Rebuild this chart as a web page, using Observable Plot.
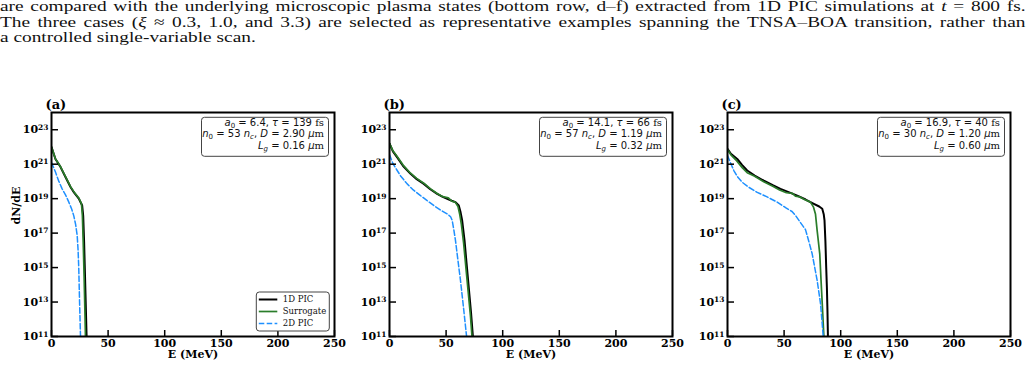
<!DOCTYPE html>
<html>
<head>
<meta charset="utf-8">
<script src="https://cdn.jsdelivr.net/npm/d3@7"></script>
<script src="https://cdn.jsdelivr.net/npm/@observablehq/plot@0.6"></script>
<style>
  html, body { margin: 0; padding: 0; background: #fff; }
  body { width: 1032px; height: 367px; overflow: hidden; position: relative; }
  #intro { position: absolute; left: 0; top: -1px; width: 795px; transform: scaleX(1.29); transform-origin: 0 0;
           font-family: "Liberation Serif", "DejaVu Serif", serif; font-size: 15px; color: #111; }
  #intro div { height: 15.7px; line-height: 15.7px; text-align: justify; text-align-last: justify; white-space: nowrap; }
  #intro div.last { text-align-last: left; }
  #charts { position: absolute; left: 0; top: 80px; display: flex; }
  #charts svg { overflow: visible; }
</style>
</head>
<body>
<div id="intro"></div>
<div id="charts"></div>
<script>
// ---- text above the figure ----
const introLines = [
  "are compared with the underlying microscopic plasma states (bottom row, d–f) extracted from 1D PIC simulations at <i>t</i> = 800 fs.",
  "The three cases (<i>ξ</i> ≈ 0.3, 1.0, and 3.3) are selected as representative examples spanning the TNSA–BOA transition, rather than",
  "a controlled single-variable scan."
];

// ---- axes ----
const energyTicks = [0, 50, 100, 150, 200, 250];
const densityTicks = [1e11, 1e13, 1e15, 1e17, 1e19, 1e21, 1e23];
const energyDomain = [0, 250];
const densityDomain = [1e11, 1e24];
const panelLabels = ["(a)", "(b)", "(c)"];
const seriesNames = ["1D PIC", "Surrogate", "2D PIC"];

// ---- spectra [E (MeV), dN/dE] ----
const pic1dA = [[0,9.8e21],[3.5,2.0e21],[8,6.8e20],[12,2.0e20],[16.8,4.7e19],[20,2.2e19],[24.1,1.0e19],[27.1,4.0e18],[28.0,1.0e18],[28.8,3.2e16],[29.6,3.2e14],[30.4,3.2e12],[31.0,1.0e11],[31.3,1.0e10]];
const surrogateA = [[0,9.8e21],[3.5,2.0e21],[8,7.1e20],[12,2.1e20],[16.8,5.0e19],[20,2.4e19],[24.1,1.1e19],[26.5,5.0e18],[27.3,1.0e18],[28.0,3.2e16],[28.8,3.2e14],[29.5,3.2e12],[30.0,1.0e11],[30.2,1.0e10]];
const pic2dA = [[0,1.26e21],[3.5,3.5e20],[6.5,1.0e20],[9.4,3.7e19],[12.5,1.6e19],[15.3,6.3e18],[17.8,2.5e18],[19.7,1.0e18],[21.3,3.2e17],[22.7,7.2e16],[23.5,1.0e16],[24.1,8.5e14],[24.8,1.0e13],[25.6,1.15e11],[25.8,3.2e10]];

const pic1dB = [[0,1.6e22],[3,5.6e21],[6.8,2.5e21],[12,7.9e20],[18.6,2.75e20],[24,1.35e20],[30.3,7.2e19],[36,3.5e19],[42.1,1.9e19],[47,1.26e19],[51,9.8e18],[55,7.6e18],[58.3,6.3e18],[61.2,4.0e18],[62.8,1.6e18],[64.2,5.4e17],[66.3,3.7e16],[68,2.0e15],[70,7.2e13],[72,2.5e12],[73.6,1.15e11],[74,3.2e10]];
const surrogateB = [[0,1.6e22],[3,6.0e21],[6.8,2.8e21],[12,8.9e20],[18.6,3.0e20],[24,1.5e20],[30.3,7.9e19],[36,3.8e19],[42.1,2.0e19],[47,1.3e19],[52,1.1e19],[55,7.1e18],[58,6.3e18],[60.5,3.5e18],[62,1.26e18],[63.5,3.2e17],[65.5,2.5e16],[67.5,1.0e15],[69.5,4.0e13],[71.5,1.6e12],[72.8,1.15e11],[73.2,3.2e10]];
const pic2dB = [[0,3.6e21],[3,1.1e21],[6.8,4.3e20],[10,2.0e20],[15.6,7.2e19],[21,3.2e19],[27.4,1.5e19],[33,7.9e18],[39.1,4.0e18],[45,2.2e18],[51,1.3e18],[54,8.9e17],[55.4,5.4e17],[56.8,1.6e17],[58.3,3.7e16],[60.5,2.5e15],[62.7,1.8e14],[65.5,4.0e12],[68,1.15e11],[68.5,3.2e10]];

const pic1dC = [[0,7.8e21],[3,4.0e21],[8.6,2.0e21],[13,8.9e20],[17.4,4.3e20],[24,2.2e20],[32.1,1.1e20],[40,6.0e19],[46.8,3.7e19],[54,2.4e19],[61.6,1.5e19],[69,8.9e18],[76.3,5.0e18],[81,3.5e18],[83.7,2.6e18],[85,1.26e18],[85.7,5.4e17],[86.5,3.2e16],[87.2,1.0e15],[87.8,7.2e13],[88.3,3.2e12],[88.7,1.15e11],[88.9,3.2e10]];
const surrogateC = [[0,7.1e21],[3,3.5e21],[8,1.6e21],[13,6.3e20],[17.4,3.2e20],[24,2.0e20],[32,9.5e19],[40,5.2e19],[46,3.2e19],[52,2.2e19],[57.4,2.0e19],[60,1.4e19],[64,1.26e19],[68,8.9e18],[73.3,6.3e18],[76,3.2e18],[77.7,1.3e18],[79.2,1.4e17],[80.3,3.2e16],[81.5,6.3e15],[82.6,2.0e14],[83.7,7.9e12],[85.1,1.15e11],[85.4,3.2e10]];
const pic2dC = [[0,3.2e21],[2.5,1.26e21],[5.6,4.3e20],[9,1.8e20],[13,8.9e19],[19,4.5e19],[26.3,2.3e19],[35,1.26e19],[43.9,6.3e18],[52,2.8e18],[57,1.8e18],[60.1,1.05e18],[64,4.5e17],[68.9,1.6e17],[71.5,4.0e16],[74.8,6.3e15],[79.2,1.8e14],[82.2,7.9e12],[84.5,1.15e11],[85,3.2e10]];

// ---- simulation parameters shown in each panel (segments: [text, style]) ----
const paramsA = [
  [["a","i"],["0","sub"],[" = 6.4, ",""],["τ","i"],[" = 139 ",""],["fs","serif"]],
  [["n","i"],["0","sub"],[" = 53 ",""],["n","i"],["c","isub"],[", ",""],["D","i"],[" = 2.90 ",""],["μ","i"],["m","serif"]],
  [["L","i"],["g","isub"],[" = 0.16 ",""],["μ","i"],["m","serif"]]
];
const paramsB = [
  [["a","i"],["0","sub"],[" = 14.1, ",""],["τ","i"],[" = 66 ",""],["fs","serif"]],
  [["n","i"],["0","sub"],[" = 57 ",""],["n","i"],["c","isub"],[", ",""],["D","i"],[" = 1.19 ",""],["μ","i"],["m","serif"]],
  [["L","i"],["g","isub"],[" = 0.32 ",""],["μ","i"],["m","serif"]]
];
const paramsC = [
  [["a","i"],["0","sub"],[" = 16.9, ",""],["τ","i"],[" = 40 ",""],["fs","serif"]],
  [["n","i"],["0","sub"],[" = 30 ",""],["n","i"],["c","isub"],[", ",""],["D","i"],[" = 1.20 ",""],["μ","i"],["m","serif"]],
  [["L","i"],["g","isub"],[" = 0.60 ",""],["μ","i"],["m","serif"]]
];

const colors = ["#000000", "#2a7d2a", "#1e90ff"];
const serif = "DejaVu Serif";

const intro = document.getElementById("intro");
introLines.forEach((html, i) => {
  const div = document.createElement("div");
  div.innerHTML = html;
  if (i === introLines.length - 1) div.className = "last";
  intro.appendChild(div);
});

const toRows = (pts) => pts.map(([E, v]) => ({E, v}));
const powerLabel = (d) => "10^" + Math.round(Math.log10(d));

// parameter box in the upper-right corner of the frame
function paramBox(lines) {
  return (index, scales, values, dims) => {
    const right = dims.width - dims.marginRight;
    const top = dims.marginTop;
    const bw = 127, bh = 39;
    const g = d3.create("svg:g");
    g.append("rect")
      .attr("x", right - 5.5 - bw).attr("y", top + 5.3)
      .attr("width", bw).attr("height", bh)
      .attr("rx", 3).attr("fill", "#fff").attr("stroke", "#444").attr("stroke-width", 1);
    lines.forEach((segs, i) => {
      const t = g.append("text")
        .attr("x", right - 10).attr("y", top + 13.7 + i * 11.7)
        .attr("text-anchor", "end")
        .attr("font-family", "DejaVu Sans").attr("font-size", 10).attr("fill", "#111");
      segs.forEach(([s, st]) => {
        const ts = t.append("tspan").text(s);
        if (st === "i" || st === "isub") ts.attr("font-style", "italic");
        if (st === "sub" || st === "isub") ts.attr("font-size", 7).attr("baseline-shift", "-25%");
        if (st === "serif") ts.attr("font-family", serif);
      });
    });
    return g.node();
  };
}

// legend in the lower-right corner of the frame
function legendBox() {
  return (index, scales, values, dims) => {
    const right = dims.width - dims.marginRight;
    const bottom = dims.height - dims.marginBottom;
    const bw = 73, bh = 39;
    const x0 = right - 4.7 - bw, y0 = bottom - 5 - bh;
    const g = d3.create("svg:g");
    g.append("rect").attr("x", x0).attr("y", y0).attr("width", bw).attr("height", bh)
      .attr("rx", 3).attr("fill", "#fff").attr("stroke", "#444").attr("stroke-width", 1);
    const widths = [2, 1.7, 1.5];
    seriesNames.forEach((name, i) => {
      const y = y0 + 7.5 + i * 12;
      g.append("line").attr("x1", x0 + 2.5).attr("x2", x0 + 21).attr("y1", y).attr("y2", y)
        .attr("stroke", colors[i]).attr("stroke-width", widths[i])
        .attr("stroke-dasharray", i === 2 ? "5.5,2.4" : null);
      g.append("text").attr("x", x0 + 26.5).attr("y", y).attr("dy", "0.35em")
        .attr("text-anchor", "start")
        .attr("font-family", serif).attr("font-size", 8.5).attr("fill", "#111").text(name);
    });
    return g.node();
  };
}

const panels = [
  {label: panelLabels[0], series: [pic1dA, surrogateA, pic2dA], params: paramsA, legend: true, ylabel: true},
  {label: panelLabels[1], series: [pic1dB, surrogateB, pic2dB], params: paramsB},
  {label: panelLabels[2], series: [pic1dC, surrogateC, pic2dC], params: paramsC}
];

const W = 338, H = 286, mL = 51, mR = 4, mT = 32, mB = 30;
const frameW = W - mL - mR, frameH = H - mT - mB;

const charts = document.getElementById("charts");
panels.forEach((p) => {
  const [s1, s2, s3] = p.series.map(toRows);
  const marks = [
    Plot.line(s1, {x: "E", y: "v", stroke: colors[0], strokeWidth: 2, clip: true}),
    Plot.line(s2, {x: "E", y: "v", stroke: colors[1], strokeWidth: 1.7, clip: true}),
    Plot.line(s3, {x: "E", y: "v", stroke: colors[2], strokeWidth: 1.5, strokeDasharray: "5.5,2.4", clip: true}),
    Plot.tickY(densityTicks, {y: d => d, stroke: "#000", strokeWidth: 1.5, insetRight: frameW - 7}),
    Plot.tickX(energyTicks, {x: d => d, stroke: "#000", strokeWidth: 1.5, insetTop: frameH - 6}),
    Plot.axisY(densityTicks, {tickSize: 0, tickPadding: 3, tickFormat: powerLabel, fontFamily: serif, fontWeight: "bold", fontSize: 11, label: null}),
    Plot.axisX(energyTicks, {tickSize: 0, tickPadding: 2.5, tickFormat: d => String(d), fontFamily: serif, fontWeight: "bold", fontSize: 11, label: null}),
    Plot.frame({stroke: "#000", strokeWidth: 2}),
    Plot.text(["E (MeV)"], {frameAnchor: "bottom", dy: 21.5, fontFamily: serif, fontWeight: "bold", fontSize: 11, fill: "#000"}),
    Plot.text([p.label], {frameAnchor: "top-left", textAnchor: "start", dx: -6, dy: -12.5, fontFamily: serif, fontWeight: "bold", fontSize: 13, fill: "#000"}),
    paramBox(p.params)
  ];
  if (p.legend) marks.push(legendBox());
  if (p.ylabel) marks.push(Plot.text(["dN/dE"], {frameAnchor: "left", dx: -35, rotate: -90, fontFamily: serif, fontWeight: "bold", fontSize: 11, fill: "#000"}));
  const chart = Plot.plot({
    width: W, height: H,
    marginLeft: mL, marginRight: mR, marginTop: mT, marginBottom: mB,
    x: {domain: energyDomain, label: null},
    y: {type: "log", domain: densityDomain, label: null},
    style: {background: "transparent", color: "#000", fontFamily: serif},
    marks
  });
  // power-of-ten tick labels: raise the exponent
  d3.select(chart).selectAll("text").each(function () {
    const s = this.textContent;
    const m = /^10\^(\d+)$/.exec(s);
    if (!m) return;
    const t = d3.select(this);
    t.text("10");
    t.append("tspan").attr("font-size", 7.5).attr("dy", "-0.45em").text(m[1]);
  });
  charts.appendChild(chart);
});
</script>
</body>
</html>
